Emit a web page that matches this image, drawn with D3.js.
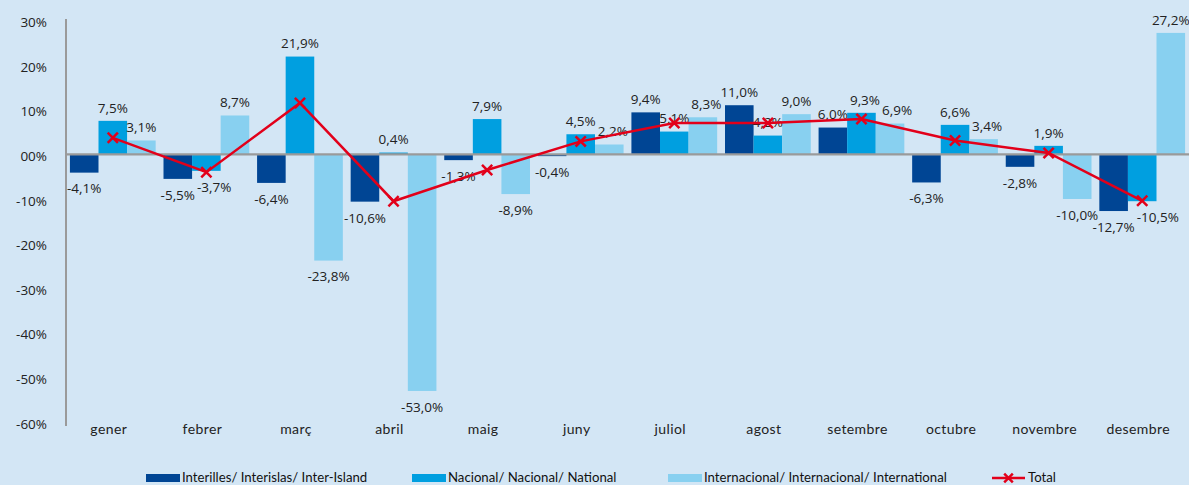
<!DOCTYPE html>
<html>
<head>
<meta charset="utf-8">
<script src="https://cdn.jsdelivr.net/npm/d3@7"></script>
<style>
  body { margin: 0; background: #d3e6f5; }
  svg { display: block; }
  .val { font-family: "Open Sans", sans-serif; font-size: 13.5px; fill: #222; }
  .ytick { font-family: "Open Sans", sans-serif; font-size: 13.5px; fill: #222; }
  .xlab { font-family: Lato, sans-serif; font-size: 14px; fill: #222; letter-spacing: 0.4px; }
  .leg { font-family: Lato, sans-serif; font-size: 13.2px; fill: #111; }
</style>
</head>
<body>
<div id="chart"></div>
<script>
// months (catalan)
const months = ["gener", "febrer", "març", "abril", "maig", "juny", "juliol", "agost", "setembre", "octubre", "novembre", "desembre"];

// monthly variation, %
const interIsland = [-4.1, -5.5, -6.4, -10.6, -1.3, -0.4, 9.4, 11.0, 6.0, -6.3, -2.8, -12.7];
const nacional = [7.5, -3.7, 21.9, 0.4, 7.9, 4.5, 5.1, 4.2, 9.3, 6.6, 1.9, -10.5];
const internacional = [3.1, 8.7, -23.8, -53.0, -8.9, 2.2, 8.3, 9.0, 6.9, 3.4, -10.0, 27.2];
const total = [3.7, -4.0, 11.5, -10.5, -3.5, 2.9, 7.0, 7.0, 7.9, 3.1, 0.3, -10.4];

const yTicks = [30, 20, 10, 0, -10, -20, -30, -40, -50, -60];

const seriesNames = ["Interilles/ Interislas/ Inter-Island", "Nacional/ Nacional/ National", "Internacional/ Internacional/ International"];
const colors = ["#004594", "#009fe0", "#88d0f0"];
const red = "#e2001a";

const width = 1189, height = 485;

// comma decimals, plain hyphen for negatives
var locale = d3.formatLocale({decimal: ",", thousands: ".", grouping: [3], currency: ["", " €"], minus: "-"});
var fmt = function (v) { return locale.format(".1f")(v) + "%"; };
var tickFmt = function (v) { return v === 0 ? "00%" : locale.format("d")(v) + "%"; };

var svg = d3.select("#chart").append("svg")
    .attr("width", width)
    .attr("height", height);

var x = d3.scaleBand()
    .domain(months)
    .range([66, width])
    .paddingInner(0)
    .paddingOuter(0);

var sub = d3.scaleBand()
    .domain([0, 1, 2])
    .range([0, x.bandwidth()])
    .paddingOuter(0.137)
    .paddingInner(0);

var y = d3.scaleLinear()
    .domain([-60, 30])
    .range([422.2, 20.4]);

// bars
var series = [interIsland, nacional, internacional];
series.forEach(function (vals, s) {
    var g = svg.append("g");
    g.selectAll("rect")
        .data(vals)
        .enter().append("rect")
        .attr("x", function (d, i) { return x(months[i]) + sub(s); })
        .attr("width", sub.bandwidth())
        .attr("y", function (d) { return y(Math.max(0, d)); })
        .attr("height", function (d) { return Math.abs(y(d) - y(0)); })
        .attr("fill", colors[s]);
});

// y axis
var yAxis = d3.axisLeft(y)
    .tickValues(yTicks)
    .tickSize(0)
    .tickPadding(19)
    .tickFormat(tickFmt);

var ya = svg.append("g")
    .attr("transform", "translate(66,0)")
    .call(yAxis);
ya.select(".domain").remove();
ya.selectAll("text").attr("class", "ytick").attr("dy", "0.45em");

svg.append("line")
    .attr("x1", 66).attr("x2", 66)
    .attr("y1", 19).attr("y2", 426)
    .attr("stroke", "#9a9a9a")
    .attr("stroke-width", 2);

// zero line
svg.append("line")
    .attr("x1", 66).attr("x2", width)
    .attr("y1", y(0)).attr("y2", y(0))
    .attr("stroke", "#9a9a9a")
    .attr("stroke-width", 2.2);

// x labels
var xAxis = d3.axisBottom(x).tickSize(0).tickPadding(0);
var xa = svg.append("g")
    .attr("transform", "translate(-4,421)")
    .call(xAxis);
xa.select(".domain").remove();
xa.selectAll("text").attr("class", "xlab").attr("dy", "0.9em");

// value labels
var labels = [];
series.forEach(function (vals, s) {
    labels[s] = svg.append("g").selectAll("text")
        .data(vals)
        .enter().append("text")
        .attr("class", "val")
        .attr("text-anchor", "middle")
        .attr("x", function (d, i) { return x(months[i]) + sub(s) + sub.bandwidth() / 2; })
        .attr("y", function (d) { return d >= 0 ? y(d) - 13 : y(d) + 16; })
        .attr("dy", "0.36em")
        .text(fmt)
        .nodes();
});

// push a label right when it runs into its left neighbour in the same month
months.forEach(function (m, i) {
    for (var s = 1; s < 3; s++) {
        var prev = labels[s - 1][i].getBBox();
        var node = labels[s][i];
        var b = node.getBBox();
        var overlapX = prev.x + prev.width + 2 - b.x;
        var overlapY = Math.min(prev.y + prev.height, b.y + b.height) - Math.max(prev.y, b.y);
        if (overlapX > 0 && overlapY > 2) {
            node.setAttribute("x", +node.getAttribute("x") + overlapX);
        }
    }
});

// total line
var cx = function (d, i) { return x(months[i]) + sub(1) + sub.bandwidth() / 2; };
var line = d3.line()
    .x(function (d, i) { return cx(d, i); })
    .y(function (d) { return y(d); });

svg.append("path")
    .datum(total)
    .attr("d", line)
    .attr("fill", "none")
    .attr("stroke", red)
    .attr("stroke-width", 2.5);

var cross = d3.symbol().type(d3.symbolTimes).size(70);
svg.append("g").selectAll("path")
    .data(total)
    .enter().append("path")
    .attr("d", cross)
    .attr("transform", function (d, i) { return "translate(" + cx(d, i) + "," + y(d) + ")"; })
    .attr("fill", "none")
    .attr("stroke", red)
    .attr("stroke-width", 2.5);

// legend
var legX = [146, 412, 668];
var legend = svg.append("g");
seriesNames.forEach(function (name, s) {
    legend.append("rect")
        .attr("x", legX[s]).attr("y", 474)
        .attr("width", 34).attr("height", 8)
        .attr("fill", colors[s]);
    legend.append("text")
        .attr("class", "leg")
        .attr("x", legX[s] + 36).attr("y", 482)
        .text(name);
});
legend.append("line")
    .attr("x1", 992).attr("x2", 1025)
    .attr("y1", 478).attr("y2", 478)
    .attr("stroke", red).attr("stroke-width", 2.5);
legend.append("path")
    .attr("d", d3.symbol().type(d3.symbolTimes).size(50))
    .attr("transform", "translate(1008.5,478)")
    .attr("fill", "none").attr("stroke", red).attr("stroke-width", 2.5);
legend.append("text")
    .attr("class", "leg")
    .attr("x", 1028).attr("y", 482)
    .text("Total");
</script>
</body>
</html>
